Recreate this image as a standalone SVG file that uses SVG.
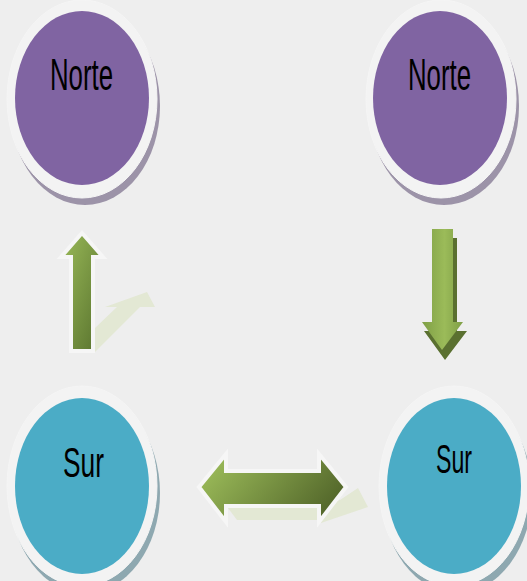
<svg xmlns="http://www.w3.org/2000/svg" width="527" height="581" viewBox="0 0 527 581">
<defs>
<linearGradient id="gUp" x1="0" y1="0" x2="1" y2="1">
<stop offset="0" stop-color="#9bbb59"/>
<stop offset="1" stop-color="#56702c"/>
</linearGradient>
<linearGradient id="gDbl" x1="0" y1="0.3" x2="1" y2="0.7">
<stop offset="0" stop-color="#9bbb59"/>
<stop offset="1" stop-color="#4f6228"/>
</linearGradient>
<linearGradient id="gDown" x1="0" y1="0" x2="1" y2="0">
<stop offset="0" stop-color="#7f9f46"/>
<stop offset="0.55" stop-color="#9bbb59"/>
<stop offset="1" stop-color="#7f9f46"/>
</linearGradient>
</defs>
<style>
.ring{fill:#f3f3f3;stroke:#f5f5f5;stroke-width:1}
.shP{fill:#9c93a8}
.shC{fill:#8ea8b0}
.purple{fill:#8064a2}
.cyan{fill:#4bacc6}
.lbl{font-family:"Liberation Sans","Arial",sans-serif;fill:#000}
.refl{fill:#e3e8d4}
.outl{stroke:#f6f6f6;stroke-width:4;stroke-linejoin:miter}
</style>
<rect width="527" height="581" fill="#eeeeee"/>

<g id="norte-left">
<ellipse class="shP" cx="85" cy="106" rx="75" ry="99"/>
<ellipse class="ring" cx="82" cy="99" rx="75" ry="99"/>
<ellipse class="purple" cx="82" cy="98" rx="67" ry="87"/>
<text class="lbl" x="50" y="90" font-size="44" textLength="63" lengthAdjust="spacingAndGlyphs">Norte</text>
</g>

<g id="norte-right">
<ellipse class="shP" cx="444" cy="106" rx="75" ry="99"/>
<ellipse class="ring" cx="441" cy="99" rx="75" ry="99"/>
<ellipse class="purple" cx="440" cy="98" rx="67" ry="87"/>
<text class="lbl" x="408" y="90" font-size="44" textLength="63" lengthAdjust="spacingAndGlyphs">Norte</text>
</g>

<g id="sur-left">
<ellipse class="shC" cx="85" cy="493" rx="75" ry="100"/>
<ellipse class="ring" cx="82" cy="486" rx="75" ry="100"/>
<ellipse class="cyan" cx="82" cy="486" rx="67" ry="88"/>
<text class="lbl" x="63" y="477" font-size="43" textLength="41" lengthAdjust="spacingAndGlyphs">Sur</text>
</g>

<g id="sur-right">
<ellipse class="shC" cx="457" cy="493" rx="75" ry="100"/>
<ellipse class="ring" cx="454" cy="486" rx="75" ry="100"/>
<ellipse class="cyan" cx="454" cy="486" rx="67" ry="88"/>
<text class="lbl" x="436" y="473" font-size="41" textLength="36" lengthAdjust="spacingAndGlyphs">Sur</text>
</g>

<g id="connectors">
<polygon class="refl" points="95,352 95,328 117,307 105,307 147,292 155,307 140,307"/>
<polygon class="outl" fill="url(#gUp)" points="71,351 71,257 61,257 82,233 103,257 93,257 93,351"/>
<polygon fill="#5a7030" points="436,238 457,238 457,331 467,331 445,360 424,331 436,331"/>
<polygon fill="url(#gDown)" points="432,229 453,229 453,322 463,322 442,350 422,322 432,322"/>
<polygon class="refl" points="228,508 320,508 320,520 237,520"/>
<polygon class="refl" points="321,523 368,507 358,488 340,500 322,506"/>
<polygon class="outl" fill="url(#gDbl)" points="199,487 226,454 226,471 319,471 319,454 346,487 319,522 319,506 226,506 226,522"/>
</g>
</svg>
